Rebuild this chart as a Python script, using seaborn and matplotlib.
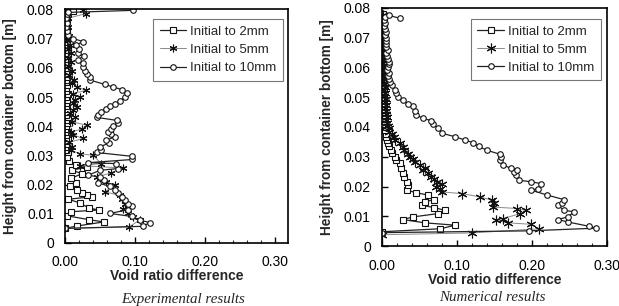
import numpy as np
import seaborn as sns
import matplotlib.pyplot as plt
from matplotlib.ticker import MultipleLocator, FuncFormatter

# Experimental results (left panel): height [m] and void ratio difference
exp_h_2mm = [0.0050, 0.0058, 0.0072, 0.0080, 0.0093, 0.0107, 0.0113, 0.0120, 0.0137, 0.0150,
             0.0158, 0.0165, 0.0172, 0.0180, 0.0196, 0.0207, 0.0222, 0.0237, 0.0250, 0.0260,
             0.0268, 0.0280, 0.0295, 0.0310, 0.0320, 0.0330, 0.0340, 0.0350, 0.0360, 0.0370,
             0.0380, 0.0390, 0.0400, 0.0410, 0.0420, 0.0430, 0.0440, 0.0450, 0.0460, 0.0470,
             0.0480, 0.0490, 0.0500, 0.0510, 0.0520, 0.0530, 0.0540, 0.0550, 0.0560, 0.0570,
             0.0580, 0.0590, 0.0600, 0.0610, 0.0620, 0.0630, 0.0640, 0.0650, 0.0660, 0.0670,
             0.0680, 0.0690, 0.0700, 0.0710, 0.0720, 0.0730, 0.0740, 0.0750, 0.0760, 0.0770,
             0.0780, 0.0790, 0.0795]
exp_v_2mm = [0.000, 0.017, 0.055, 0.034, 0.003, 0.008, 0.048, 0.034, 0.021, 0.005,
             0.038, 0.031, 0.024, 0.017, 0.007, 0.015, 0.009, 0.024, 0.010, 0.032,
             0.016, 0.006, 0.003, 0.005, 0.002, 0.001, 0.003, 0.002, 0.004, 0.001,
             0.003, 0.002, 0.001, 0.003, 0.002, 0.004, 0.001, 0.002, 0.003, 0.001,
             0.002, 0.003, 0.001, 0.004, 0.002, 0.001, 0.003, 0.002, 0.001, 0.003,
             0.002, 0.004, 0.003, 0.001, 0.002, 0.003, 0.001, 0.002, 0.004, 0.002,
             0.001, 0.003, 0.002, 0.001, 0.002, 0.003, 0.001, 0.002, 0.003, 0.001,
             0.002, 0.004, 0.012]

exp_h_5mm = [0.0050, 0.0055, 0.0080, 0.0089, 0.0101, 0.0118, 0.0135, 0.0152, 0.0163, 0.0175,
             0.0198, 0.0210, 0.0226, 0.0240, 0.0257, 0.0265, 0.0272, 0.0300, 0.0306, 0.0318,
             0.0330, 0.0345, 0.0358, 0.0370, 0.0380, 0.0390, 0.0403, 0.0415, 0.0430, 0.0445,
             0.0455, 0.0466, 0.0480, 0.0490, 0.0500, 0.0512, 0.0523, 0.0535, 0.0548, 0.0560,
             0.0575, 0.0590, 0.0605, 0.0620, 0.0635, 0.0650, 0.0665, 0.0680, 0.0695, 0.0710,
             0.0725, 0.0740, 0.0755, 0.0770, 0.0786, 0.0798]
exp_v_5mm = [0.000, 0.092, 0.107, 0.097, 0.090, 0.083, 0.085, 0.081, 0.078, 0.057,
             0.071, 0.059, 0.045, 0.066, 0.083, 0.021, 0.052, 0.040, 0.021, 0.008,
             0.010, 0.006, 0.026, 0.012, 0.008, 0.024, 0.032, 0.010, 0.014, 0.007,
             0.012, 0.017, 0.011, 0.014, 0.021, 0.012, 0.030, 0.017, 0.010, 0.013,
             0.006, 0.010, 0.004, 0.008, 0.005, 0.009, 0.004, 0.007, 0.003, 0.006,
             0.003, 0.005, 0.002, 0.004, 0.030, 0.026]

exp_h_10mm = [0.0050, 0.0057, 0.0070, 0.0078, 0.0091, 0.0101, 0.0114, 0.0126, 0.0135, 0.0146,
              0.0158, 0.0171, 0.0183, 0.0194, 0.0206, 0.0215, 0.0226, 0.0232, 0.0249, 0.0255,
              0.0272, 0.0275, 0.0286, 0.0297, 0.0310, 0.0320, 0.0330, 0.0342, 0.0352, 0.0363,
              0.0372, 0.0380, 0.0390, 0.0400, 0.0412, 0.0420, 0.0430, 0.0440, 0.0450, 0.0460,
              0.0468, 0.0477, 0.0487, 0.0500, 0.0513, 0.0525, 0.0535, 0.0543, 0.0558, 0.0567,
              0.0578, 0.0590, 0.0602, 0.0615, 0.0628, 0.0640, 0.0650, 0.0665, 0.0678, 0.0690,
              0.0700, 0.0712, 0.0725, 0.0740, 0.0755, 0.0770, 0.0785, 0.0790, 0.0797]
exp_v_10mm = [0.000, 0.111, 0.121, 0.107, 0.095, 0.064, 0.090, 0.095, 0.090, 0.085,
              0.081, 0.076, 0.071, 0.064, 0.047, 0.055, 0.050, 0.033, 0.050, 0.076,
              0.073, 0.033, 0.096, 0.095, 0.045, 0.052, 0.050, 0.063, 0.059, 0.071,
              0.066, 0.061, 0.065, 0.068, 0.076, 0.074, 0.046, 0.047, 0.052, 0.058,
              0.064, 0.071, 0.078, 0.086, 0.088, 0.082, 0.068, 0.057, 0.036, 0.035,
              0.032, 0.029, 0.026, 0.025, 0.018, 0.027, 0.018, 0.020, 0.015, 0.026,
              0.012, 0.005, 0.003, 0.002, 0.003, 0.002, 0.003, 0.005, 0.097]

# Numerical results (right panel)
num_h_2mm = [0.0048, 0.0058, 0.0070, 0.0078, 0.0089, 0.0098, 0.0109, 0.0120, 0.0129, 0.0137,
             0.0148, 0.0156, 0.0171, 0.0179, 0.0188, 0.0205, 0.0216, 0.0232, 0.0246, 0.0261,
             0.0278, 0.0289, 0.0300, 0.0312, 0.0322, 0.0335, 0.0345, 0.0356, 0.0367, 0.0378,
             0.0390, 0.0400, 0.0410, 0.0420, 0.0430, 0.0440, 0.0450, 0.0460, 0.0470, 0.0480,
             0.0490, 0.0500, 0.0510, 0.0520, 0.0530, 0.0540, 0.0550, 0.0560, 0.0570, 0.0580,
             0.0590, 0.0600, 0.0610, 0.0620, 0.0630, 0.0640, 0.0650, 0.0660, 0.0670, 0.0680,
             0.0690, 0.0700, 0.0710, 0.0720, 0.0730, 0.0740, 0.0750, 0.0760, 0.0770, 0.0780]
num_v_2mm = [0.000, 0.078, 0.098, 0.057, 0.028, 0.042, 0.075, 0.084, 0.070, 0.053,
             0.057, 0.069, 0.062, 0.046, 0.033, 0.035, 0.033, 0.030, 0.028, 0.026,
             0.024, 0.019, 0.017, 0.014, 0.0126, 0.010, 0.008, 0.007, 0.006, 0.005,
             0.004, 0.005, 0.003, 0.004, 0.003, 0.004, 0.002, 0.003, 0.002, 0.003,
             0.002, 0.003, 0.001, 0.002, 0.003, 0.001, 0.002, 0.002, 0.001, 0.003,
             0.002, 0.001, 0.002, 0.003, 0.001, 0.002, 0.001, 0.002, 0.003, 0.001,
             0.002, 0.001, 0.002, 0.001, 0.002, 0.003, 0.001, 0.002, 0.001, 0.002]

num_h_5mm = [0.0038, 0.0044, 0.0058, 0.0073, 0.0078, 0.0087, 0.0092, 0.0109, 0.0120, 0.0126,
             0.0131, 0.0143, 0.0154, 0.0165, 0.0176, 0.0182, 0.0193, 0.0200, 0.0210, 0.0216,
             0.0225, 0.0233, 0.0244, 0.0255, 0.0262, 0.0272, 0.0283, 0.0292, 0.0300, 0.0310,
             0.0322, 0.0333, 0.0345, 0.0356, 0.0365, 0.0375, 0.0384, 0.0395, 0.0405, 0.0415,
             0.0425, 0.0435, 0.0445, 0.0455, 0.0465, 0.0475, 0.0485, 0.0495, 0.0505, 0.0515,
             0.0525, 0.0535, 0.0545, 0.0555, 0.0565, 0.0575, 0.0585, 0.0595, 0.0605, 0.0615,
             0.0625, 0.0635, 0.0645, 0.0655, 0.0665, 0.0675, 0.0685, 0.0695, 0.0705, 0.0715,
             0.0725, 0.0735, 0.0745, 0.0755, 0.0765, 0.0775]
num_v_5mm = [0.000, 0.120, 0.210, 0.199, 0.168, 0.152, 0.161, 0.185, 0.192, 0.181,
             0.148, 0.149, 0.147, 0.131, 0.107, 0.080, 0.078, 0.072, 0.080, 0.073,
             0.070, 0.066, 0.062, 0.055, 0.058, 0.051, 0.044, 0.041, 0.037, 0.035,
             0.030, 0.028, 0.024, 0.017, 0.016, 0.013, 0.010, 0.009, 0.008, 0.007,
             0.006, 0.007, 0.005, 0.006, 0.004, 0.005, 0.004, 0.005, 0.003, 0.004,
             0.003, 0.004, 0.003, 0.002, 0.003, 0.002, 0.003, 0.002, 0.003, 0.002,
             0.002, 0.003, 0.002, 0.001, 0.002, 0.001, 0.002, 0.001, 0.002, 0.001,
             0.002, 0.001, 0.002, 0.001, 0.002, 0.001]

num_h_10mm = [0.0045, 0.0051, 0.0060, 0.0066, 0.0081, 0.0089, 0.0098, 0.0115, 0.0120, 0.0137,
              0.0143, 0.0156, 0.0171, 0.0188, 0.0193, 0.0210, 0.0216, 0.0221, 0.0238, 0.0248,
              0.0257, 0.0261, 0.0272, 0.0289, 0.0300, 0.0308, 0.0322, 0.0335, 0.0347, 0.0356,
              0.0367, 0.0379, 0.0396, 0.0410, 0.0421, 0.0429, 0.0440, 0.0455, 0.0469, 0.0476,
              0.0490, 0.0502, 0.0515, 0.0525, 0.0540, 0.0550, 0.0560, 0.0570, 0.0580, 0.0590,
              0.0600, 0.0610, 0.0620, 0.0630, 0.0640, 0.0650, 0.0660, 0.0670, 0.0680, 0.0690,
              0.0700, 0.0710, 0.0720, 0.0730, 0.0740, 0.0750, 0.0760, 0.0770, 0.0775, 0.0765]
num_v_10mm = [0.000, 0.196, 0.286, 0.277, 0.248, 0.235, 0.248, 0.257, 0.243, 0.235,
              0.241, 0.243, 0.221, 0.199, 0.209, 0.212, 0.199, 0.183, 0.179, 0.176,
              0.181, 0.172, 0.162, 0.157, 0.159, 0.158, 0.140, 0.129, 0.122, 0.111,
              0.098, 0.080, 0.075, 0.068, 0.066, 0.055, 0.046, 0.044, 0.042, 0.035,
              0.028, 0.0215, 0.019, 0.017, 0.013, 0.011, 0.010, 0.008, 0.009, 0.007,
              0.008, 0.010, 0.010, 0.008, 0.007, 0.006, 0.008, 0.006, 0.005, 0.006,
              0.005, 0.004, 0.005, 0.004, 0.003, 0.004, 0.003, 0.004, 0.010, 0.024]

labels = ['Initial to 2mm', 'Initial to 5mm', 'Initial to 10mm']

sns.set_style('ticks')
plt.rcParams['font.family'] = ['Liberation Sans', 'DejaVu Sans']

fig = plt.figure(figsize=(6.19, 3.06), dpi=100)
ax1 = fig.add_axes([0.105, 0.206, 0.360, 0.763])
ax2 = fig.add_axes([0.617, 0.196, 0.363, 0.778])

asterisk = (6, 2, 0)


def draw_panel(ax, series, xmax, legend_anchor, star_size):
    styles = [
        dict(marker='s', markersize=4.0, color='#222222', linewidth=0.9),
        dict(marker=asterisk, markersize=star_size, color='#8a8a8a', linewidth=0.7),
        dict(marker='o', markersize=4.0, color='#222222', linewidth=0.9),
    ]
    for (h, v), lab, st in zip(series, labels, styles):
        sns.lineplot(x=v, y=h, sort=False, estimator=None, ax=ax, label=lab,
                     markerfacecolor='white', markeredgecolor='#111111',
                     markeredgewidth=0.8, **st)
    ax.set_xlim(0, xmax)
    ax.set_ylim(0, 0.08)
    ax.xaxis.set_major_locator(MultipleLocator(0.1))
    ax.xaxis.set_minor_locator(MultipleLocator(0.02))
    ax.yaxis.set_major_locator(MultipleLocator(0.01))
    ax.xaxis.set_major_formatter(FuncFormatter(lambda t, _: f'{t:.2f}'))
    ax.yaxis.set_major_formatter(FuncFormatter(lambda t, _: '0' if abs(t) < 1e-9 else f'{t:.2f}'))
    ax.tick_params(axis='both', which='major', direction='in', length=4, width=1,
                   labelsize=10, colors='black')
    ax.tick_params(axis='x', which='major', pad=9)
    ax.tick_params(axis='y', which='major', pad=8)
    ax.tick_params(axis='x', which='minor', direction='in', length=2.5, width=0.8)
    for s in ax.spines.values():
        s.set_color('black')
        s.set_linewidth(1.2)
    ax.set_xlabel('Void ratio difference', fontsize=10, fontweight='bold', labelpad=0)
    ax.set_ylabel('Height from container bottom [m]', fontsize=9.8, fontweight='bold', labelpad=7)
    leg = ax.legend(loc='upper right', bbox_to_anchor=legend_anchor, fontsize=9.5,
                    frameon=True, fancybox=False, edgecolor='#777777', framealpha=1,
                    handlelength=2.0, handletextpad=0.3, labelspacing=0.45,
                    borderpad=0.5, borderaxespad=0)
    leg.get_frame().set_linewidth(0.8)


draw_panel(ax1, [(exp_h_2mm, exp_v_2mm), (exp_h_5mm, exp_v_5mm), (exp_h_10mm, exp_v_10mm)],
           0.318, (0.978, 0.959), 5.5)
draw_panel(ax2, [(num_h_2mm, num_v_2mm), (num_h_5mm, num_v_5mm), (num_h_10mm, num_v_10mm)],
           0.30, (0.973, 0.955), 7.0)

fig.text(0.296, 0.022, 'Experimental results', ha='center', va='center', fontsize=10.8,
         style='italic', family=['Liberation Serif', 'DejaVu Serif'])
fig.text(0.795, 0.028, 'Numerical results', ha='center', va='center', fontsize=10.8,
         style='italic', family=['Liberation Serif', 'DejaVu Serif'])

fig.savefig('out.png', dpi=100)
